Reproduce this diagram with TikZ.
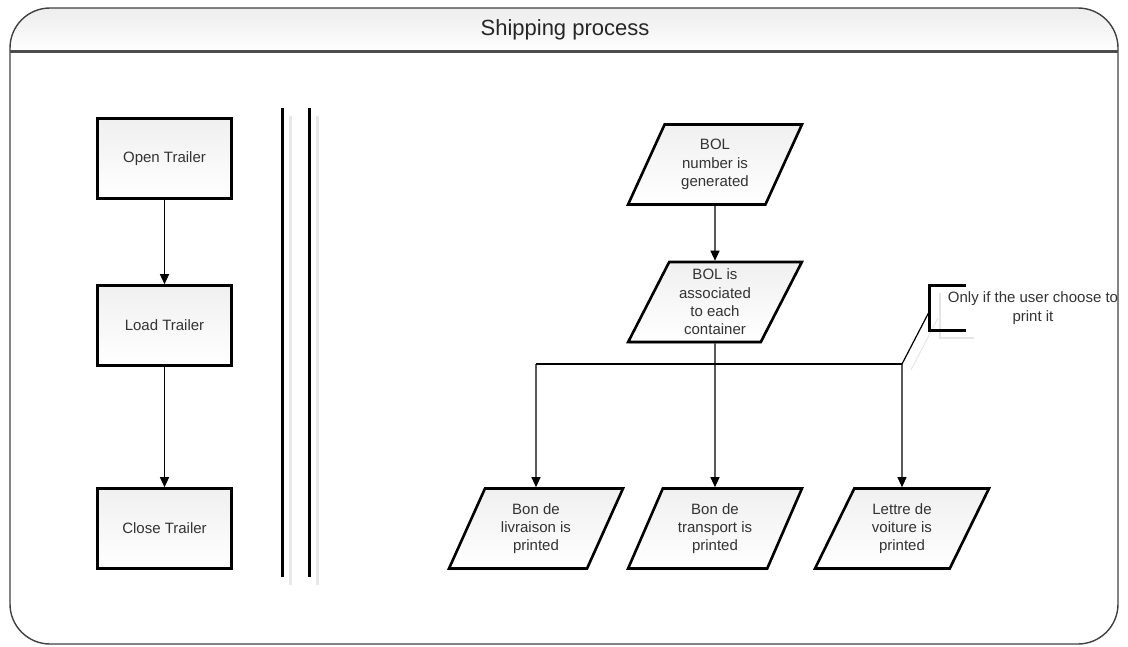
\documentclass[tikz,border=0pt]{standalone}
\usepackage{fontspec}
\setmainfont{Liberation Sans}
\usetikzlibrary{shapes.geometric,arrows.meta,shadows}

\begin{document}
\begin{tikzpicture}[x=1pt,y=-1pt,
    boxtext/.style={font=\fontsize{15}{18.3}\selectfont,text=black!80,align=center},
    process/.style={rectangle,draw,line width=2.6pt,minimum width=134pt,minimum height=80pt,
      top color=black!6,bottom color=white,boxtext,
      drop shadow={shadow xshift=0.6pt,shadow yshift=-1.6pt,fill=black!45}},
    io/.style={trapezium,trapezium left angle=64,trapezium right angle=116,trapezium stretches=true,
      draw,line width=2.6pt,minimum width=174pt,minimum height=80pt,inner sep=0pt,
      top color=black!6,bottom color=white,boxtext,
      drop shadow={shadow xshift=0.6pt,shadow yshift=-1.6pt,fill=black!45}},
    flow/.style={line width=1.2pt,-{Triangle[length=10pt,width=9pt]}},
    branch/.style={line width=1.2pt},
    swim/.style={line width=3pt,line cap=butt},
    ghost/.style={line width=3pt,black!9}]
        \useasboundingbox (0,0) rectangle (1128,646);

        % frame and title band
        \begin{scope}
          \clip[rounded corners=40pt] (10,8) rectangle (1118,644);
          \shade[top color=black!7,bottom color=white,middle color=black!4] (10,8) rectangle (1118,50);
        \end{scope}
        \draw[line width=1.4pt,black!75,rounded corners=40pt] (10,8) rectangle (1118,644);
        \draw[line width=2.6pt,black!70] (10,51.5) -- (1118,51.5);
        \node[font=\fontsize{22}{26}\selectfont,text=black!85] (title) at (565,30) {Shipping process};

        % separator lines
        \draw[ghost] (290,116) -- (290,585);
        \draw[ghost] (317,116) -- (317,585);
        \draw[swim] (282,108) -- (282,577);
        \draw[swim] (309,108) -- (309,577);

        % trailer steps
        \node[process] (open) at (164.5,158.5) {Open Trailer};
        \node[process] (load) at (164.5,325.5) {Load Trailer};
        \node[process] (close) at (164.5,528.5) {Close Trailer};
        \draw[flow] (open) -- (load);
        \draw[flow] (load) -- (close);

        % BOL steps
        \node[io] (bolnum) at (715,164.5) {BOL\\number is\\generated};
        \node[io] (bolassoc) at (715,302) {BOL is\\associated\\to each\\container};
        \node[io] (livraison) at (536,528.5) {Bon de\\livraison is\\printed};
        \node[io] (transport) at (715,528.5) {Bon de\\transport is\\printed};
        \node[io] (voiture) at (902,528.5) {Lettre de\\voiture is\\printed};
        \draw[flow] (bolnum) -- (bolassoc);
        \draw[flow] (bolassoc) -- (transport);

        \coordinate (jl) at (536,364);
        \coordinate (jr) at (902,364);
        \draw[branch] (jl) -- (jr);
        \draw[flow] (jl) -- (livraison);
        \draw[flow] (jr) -- (voiture);

        % annotation
        \coordinate (brk) at (929,312);
        \draw[line width=1pt,black!10] (938,318) -- (911,370);
        \draw[line width=2.5pt,black!10] (940,293) -- (940,338) -- (974,338);
        \draw[line width=3pt] (966,285) -- (929,285) -- (929,330) -- (966,330);
        \draw[branch] (brk) -- (jr);
        \node[boxtext,inner sep=0pt] (note) at (1033,308) {Only if the user choose to\\print it};
\end{tikzpicture}
\end{document}
